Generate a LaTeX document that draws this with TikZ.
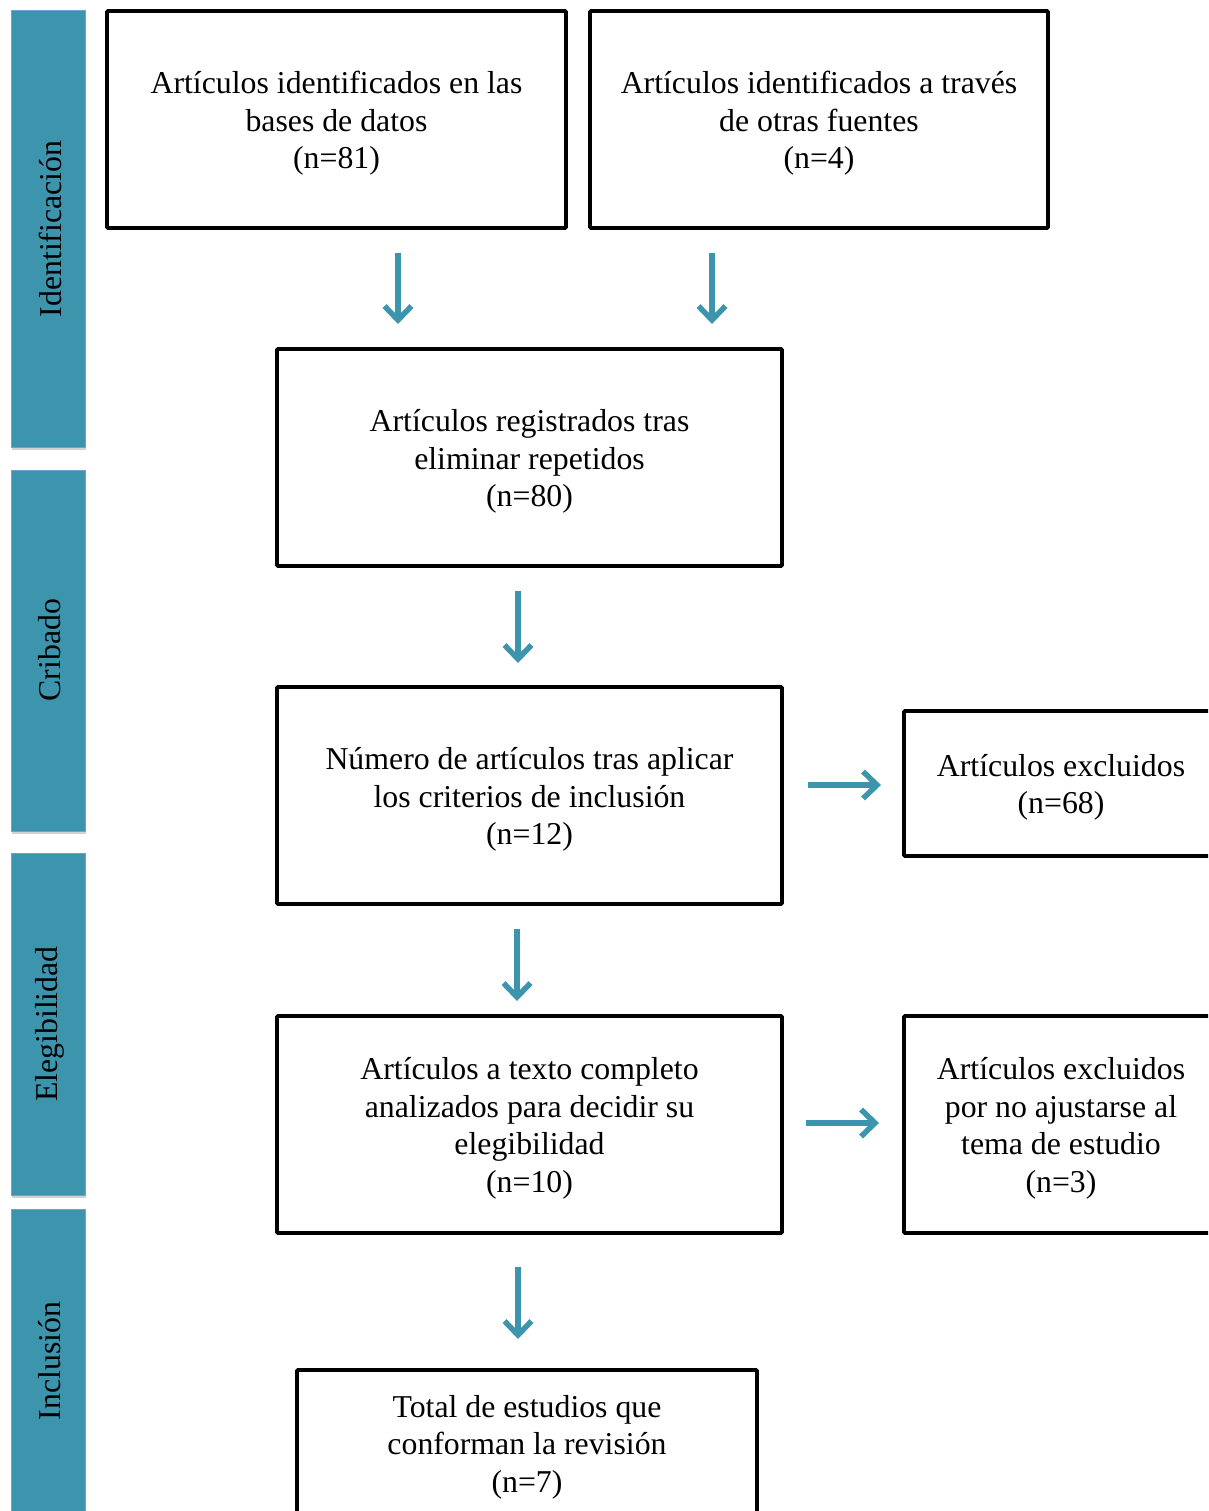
\documentclass[tikz,border=0pt]{standalone}
\usepackage{fontspec}
\setmainfont{Liberation Serif}
\usetikzlibrary{arrows.meta,shadows}
\definecolor{barfill}{HTML}{3D95AD}
\definecolor{baredge}{HTML}{6FA3CF}
\definecolor{arrowc}{HTML}{3D95AD}
\begin{document}
\begin{tikzpicture}[x=1pt,y=-1pt,
  txt/.style={font=\fontsize{31.8}{37.5}\selectfont,align=center,inner sep=0pt},
  flowbox/.style={draw=black,line width=3.8pt,inner sep=0pt,rounded corners=1pt},
  sidebar/.style={fill=barfill,draw=baredge,line width=1pt,drop shadow={opacity=0.35,shadow xshift=1pt,shadow yshift=-3pt}},
  sidelabel/.style={txt,rotate=90,anchor=center},
  flowarrow/.style={draw=arrowc,line width=5.5pt,-{Straight Barb[length=14pt,width=27pt]}}
]
\clip (0,0) rectangle (1208,1511);
\fill[white] (0,0) rectangle (1208,1511);

% side bars
\path[sidebar] (11,11) rectangle (85,447);
\path[sidebar] (11,470) rectangle (85,831);
\path[sidebar] (11,853) rectangle (85,1195);
\path[sidebar] (11,1209) rectangle (85,1530);
\node[sidelabel] (l1) at (50,229) {Identificación};
\node[sidelabel] (l2) at (50,650) {Cribado};
\node[sidelabel] (l3) at (50,1024) {Elegibilidad};
\node[sidelabel] (l4) at (50,1361) {Inclusión};

% boxes
\node[flowbox,minimum width=459pt,minimum height=217pt] (b1) at (336.5,119.5) {};
\node[txt] (b1t) at (336.5,123.5) {Artículos identificados en las\\bases de datos\\(n=81)};
\node[flowbox,minimum width=458pt,minimum height=217pt] (b2) at (819,119.5) {};
\node[txt] (b2t) at (819,123.5) {Artículos identificados a través\\de otras fuentes\\(n=4)};
\node[flowbox,minimum width=505pt,minimum height=217pt] (b3) at (529.5,457.5) {};
\node[txt] (b3t) at (529.5,461.5) {Artículos registrados tras\\eliminar repetidos\\(n=80)};
\node[flowbox,minimum width=505pt,minimum height=217pt] (b4) at (529.5,795.5) {};
\node[txt] (b4t) at (529.5,799.5) {Número de artículos tras aplicar\\los criterios de inclusión\\(n=12)};
\node[flowbox,minimum width=314pt,minimum height=145pt] (b5) at (1061,783.5) {};
\node[txt] (b5t) at (1061,787.5) {Artículos excluidos\\(n=68)};
\node[flowbox,minimum width=505pt,minimum height=217pt] (b6) at (529.5,1124.5) {};
\node[txt] (b6t) at (529.5,1128.5) {Artículos a texto completo\\analizados para decidir su\\elegibilidad\\(n=10)};
\node[flowbox,minimum width=314pt,minimum height=217pt] (b7) at (1061,1124.5) {};
\node[txt] (b7t) at (1061,1128.5) {Artículos excluidos\\por no ajustarse al\\tema de estudio\\(n=3)};
\node[flowbox,minimum width=460pt,minimum height=148pt] (b8) at (527,1444) {};
\node[txt] (b8t) at (527,1447) {Total de estudios que\\conforman la revisión\\(n=7)};

% arrow coordinates
\coordinate (a1s) at (398,253); \coordinate (a1e) at (398,324);
\coordinate (a2s) at (712,253); \coordinate (a2e) at (712,324);
\coordinate (a3s) at (518,591); \coordinate (a3e) at (518,663);
\coordinate (a4s) at (517,929); \coordinate (a4e) at (517,1001);
\coordinate (a5s) at (518,1267); \coordinate (a5e) at (518,1339);
\coordinate (a6s) at (808,785); \coordinate (a6e) at (881,785);
\coordinate (a7s) at (806,1123); \coordinate (a7e) at (879,1123);

\draw[flowarrow] (a1s) -- (a1e);
\draw[flowarrow] (a2s) -- (a2e);
\draw[flowarrow] (a3s) -- (a3e);
\draw[flowarrow] (a4s) -- (a4e);
\draw[flowarrow] (a5s) -- (a5e);
\draw[flowarrow] (a6s) -- (a6e);
\draw[flowarrow] (a7s) -- (a7e);
\end{tikzpicture}
\end{document}
